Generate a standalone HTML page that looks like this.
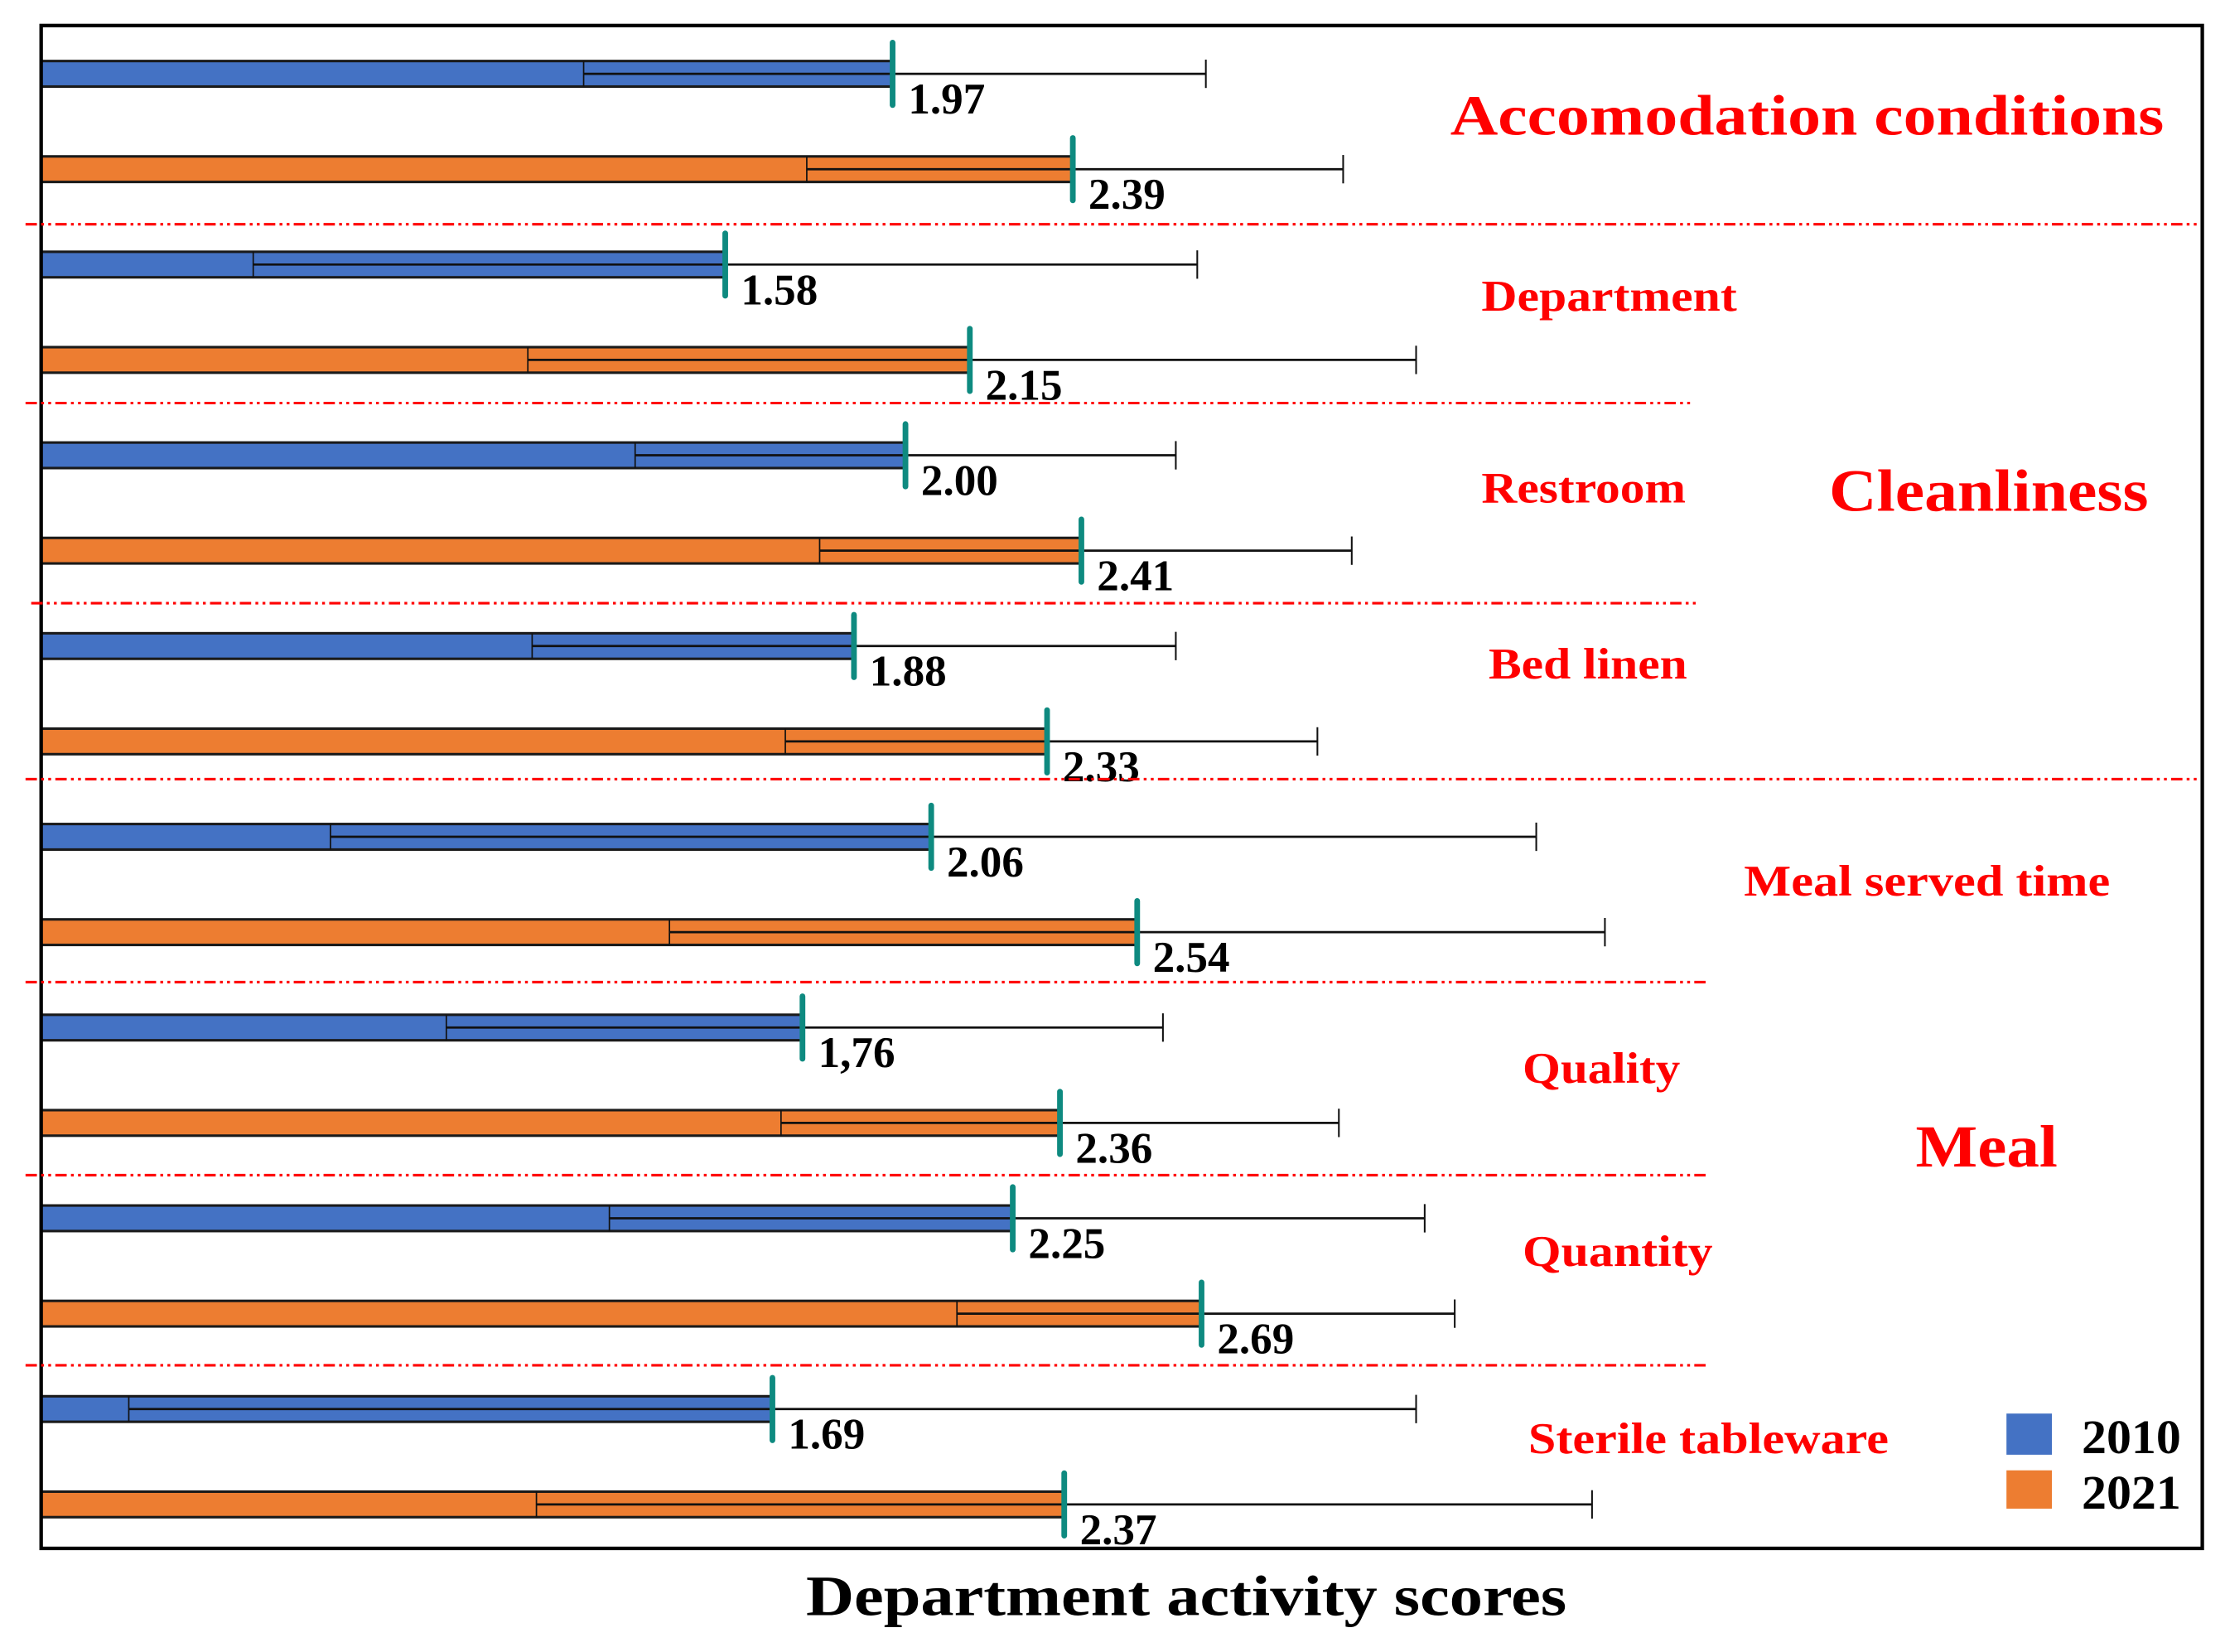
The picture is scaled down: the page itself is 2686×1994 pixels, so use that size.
<!DOCTYPE html>
<html><head><meta charset="utf-8"><style>
html,body{margin:0;padding:0;background:#fff;}
svg{display:block;}
text{font-family:"Liberation Serif",serif;font-weight:bold;}
</style></head><body>
<svg id="chart" width="2686" height="1994" viewBox="0 0 1568 1164" preserveAspectRatio="none" xmlns="http://www.w3.org/2000/svg">
<rect x="0" y="0" width="1568" height="1164" fill="#fff"/>
<g id="marks"></g>
<rect x="29" y="18" width="1523" height="1073" fill="none" stroke="#000" stroke-width="2.5"/>
<g id="seps"></g>
<g fill="#ff0000">
<text x="1022" y="95" font-size="40" textLength="503" lengthAdjust="spacingAndGlyphs">Accomodation conditions</text>
<text x="1044" y="219" font-size="31" textLength="180" lengthAdjust="spacingAndGlyphs">Department</text>
<text x="1044" y="354" font-size="31" textLength="144" lengthAdjust="spacingAndGlyphs">Restroom</text>
<text x="1049" y="478" font-size="31" textLength="140" lengthAdjust="spacingAndGlyphs">Bed linen</text>
<text x="1289" y="360" font-size="42" textLength="225" lengthAdjust="spacingAndGlyphs">Cleanliness</text>
<text x="1229" y="631" font-size="31" textLength="258" lengthAdjust="spacingAndGlyphs">Meal served time</text>
<text x="1073" y="763" font-size="31" textLength="111" lengthAdjust="spacingAndGlyphs">Quality</text>
<text x="1350" y="822" font-size="42" textLength="100" lengthAdjust="spacingAndGlyphs">Meal</text>
<text x="1073" y="892" font-size="31" textLength="134" lengthAdjust="spacingAndGlyphs">Quantity</text>
<text x="1077" y="1024" font-size="31" textLength="254" lengthAdjust="spacingAndGlyphs">Sterile tableware</text>
</g>
<rect x="1414" y="996" width="32" height="29" fill="#4472c4"/>
<text x="1467" y="1024" font-size="34" textLength="70" lengthAdjust="spacingAndGlyphs">2010</text>
<rect x="1414" y="1036" width="32" height="27" fill="#ed7d31"/>
<text x="1467" y="1063" font-size="34" textLength="70" lengthAdjust="spacingAndGlyphs">2021</text>
<text x="836" y="1138" font-size="40" text-anchor="middle" textLength="536" lengthAdjust="spacingAndGlyphs">Department activity scores</text>
</svg>
<script>
const categories = ["Accomodation conditions","Department","Restroom","Bed linen","Meal served time","Quality","Quantity","Sterile tableware"];
const mean2010 = [1.97,1.58,2.00,1.88,2.06,1.76,2.25,1.69];
const mean2021 = [2.39,2.15,2.41,2.33,2.54,2.36,2.69,2.37];
const lower2010 = [1.25,0.48,1.37,1.13,0.66,0.93,1.31,0.19];
const upper2010 = [2.70,2.68,2.63,2.63,3.47,2.60,3.21,3.19];
const lower2021 = [1.77,1.12,1.80,1.72,1.45,1.71,2.12,1.14];
const upper2021 = [3.02,3.19,3.04,2.96,3.63,3.01,3.28,3.60];
const labels2010 = ["1.97","1.58","2.00","1.88","2.06","1,76","2.25","1.69"];
const labels2021 = ["2.39","2.15","2.41","2.33","2.54","2.36","2.69","2.37"];

const NS = "http://www.w3.org/2000/svg";
const xScale = v => 33.3 + 302.4 * v;
const rowY = i => 52 + 67.2 * i;
const X0 = 29;
const marks = document.getElementById("marks");
function mk(tag, attrs, parent) {
  const e = document.createElementNS(NS, tag);
  for (const k in attrs) e.setAttribute(k, attrs[k]);
  (parent || marks).appendChild(e);
  return e;
}
function drawRow(i, m, lo, hi, lab, color, yr) {
  const y = rowY(i);
  const g = mk("g", {});
  
  
  const xm = xScale(m);
  const b = mk("rect", {x: X0, y: y - 9, width: xm - X0, height: 18, fill: color, stroke: "#1a1a1a", "stroke-width": 1.8}, g);
  
  
  const w = mk("line", {x1: xScale(lo), x2: xScale(hi), y1: y, y2: y, stroke: "#111", "stroke-width": 1.6}, g);
  
  
  const c1 = mk("line", {x1: xScale(lo), x2: xScale(lo), y1: y - 9, y2: y + 9, stroke: "#111", "stroke-width": 1}, g);
  
  
  const c2 = mk("line", {x1: xScale(hi), x2: xScale(hi), y1: y - 10, y2: y + 10, stroke: "#111", "stroke-width": 1.2}, g);
  
  
  const t = mk("line", {x1: xm, x2: xm, y1: y - 22, y2: y + 22, stroke: "#0e8a80", "stroke-width": 4, "stroke-linecap": "round"}, g);
  
  
  const tx = mk("text", {x: xm + 11, y: y + 28, "font-size": 31, fill: "#000"}, g);
  tx.textContent = lab;
  
  
}
for (let i = 0; i < categories.length; i++) {
  drawRow(2 * i, mean2010[i], lower2010[i], upper2010[i], labels2010[i], "#4472c4", "2010");
  drawRow(2 * i + 1, mean2021[i], lower2021[i], upper2021[i], labels2021[i], "#ed7d31", "2021");
}
const seps = [[158,18,1550],[284,18,1192],[425,22,1197],[549,18,1550],[692,18,1203],[828,18,1205],[962,18,1202]];
const sg = document.getElementById("seps");
seps.forEach((s, k) => {
  const l = mk("line", {x1: s[1], x2: s[2], y1: s[0], y2: s[0], stroke: "#ff0000", "stroke-width": 1.8, "stroke-dasharray": "8 3 2 3 2 3"}, sg);
  
  
});
</script>
</body></html>
